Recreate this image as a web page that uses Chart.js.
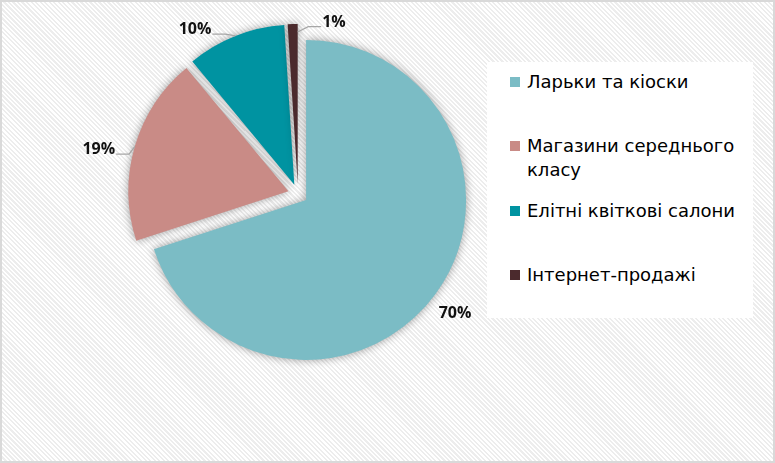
<!DOCTYPE html>
<html><head><meta charset="utf-8">
<script src="https://cdn.jsdelivr.net/npm/chart.js@4"></script>
<style>
html,body{margin:0;padding:0;}
body{width:775px;height:463px;overflow:hidden;position:relative;
 background: repeating-linear-gradient(45deg,#ffffff 0px,#ffffff 1.6px,#ededed 1.6px,#ededed 3.2px);}
#frame{position:absolute;left:0;top:0;width:775px;height:463px;box-sizing:border-box;border:2px solid #d9d9d9;pointer-events:none;}
canvas{position:absolute;left:0;top:0;}
#legend{position:absolute;left:487px;top:62px;width:266px;height:256px;background:#fff;font-family:"DejaVu Sans";font-size:18px;color:#000;}
.item{position:absolute;left:23px;width:240px;height:24px;}
.sw{position:absolute;left:0;top:7px;width:10px;height:10px;}
.tx{position:absolute;left:17px;top:0;width:222px;line-height:24px;white-space:normal;}
</style>
</head><body>
<canvas id="c" width="775" height="463"></canvas>
<div id="legend"></div>
<div id="frame"></div>
<script>
const categories = ['Ларьки та кіоски', 'Магазини середнього класу', 'Елітні квіткові салони', 'Інтернет-продажі'];
const shares = [70, 19, 10, 1];
const colors = ['#7BBCC5', '#C98B86', '#0093A1', '#4B2A2D'];

const EXPLODE = 10;
const labelStyle = [
  {dx: 19.5, dy: 19, leader: false},
  {dx: -36, dy: 2, leader: true, target: 'mid', inset: 0},
  {dx: -40.4, dy: -7.4, leader: true, target: 'mid', inset: 0},
  {dx: 41.3, dy: -3, leader: true, target: 'end', inset: 8}
];

// legend (HTML, real text)
const legendEl = document.getElementById('legend');
categories.forEach((name, i) => {
  const it = document.createElement('div');
  it.className = 'item';
  it.style.top = (20 + 64.3 * i - 12) + 'px';
  const sw = document.createElement('div');
  sw.className = 'sw';
  sw.style.background = colors[i];
  const tx = document.createElement('div');
  tx.className = 'tx';
  tx.textContent = name;
  it.appendChild(sw); it.appendChild(tx);
  legendEl.appendChild(it);
});

const explodePlugin = {
  id: 'explode',
  beforeDatasetsDraw(chart) {
    chart.getDatasetMeta(0).data.forEach(arc => {
      if (arc._exp) return;
      arc._exp = true;
      const orig = arc.draw;
      arc.draw = function (ctx, area) {
        const mid = (this.startAngle + this.endAngle) / 2;
        ctx.save();
        ctx.translate(Math.cos(mid) * EXPLODE, Math.sin(mid) * EXPLODE);
        ctx.shadowColor = 'rgba(0,0,0,0.38)';
        ctx.shadowBlur = 9;
        orig.call(this, ctx, area);
        ctx.restore();
      };
    });
  },
  afterDatasetsDraw(chart) {
    const ctx = chart.ctx;
    const meta = chart.getDatasetMeta(0);
    const total = shares.reduce((a, b) => a + b, 0);
    meta.data.forEach((arc, i) => {
      const p = arc.getProps(['x', 'y', 'startAngle', 'endAngle', 'outerRadius'], true);
      const mid = (p.startAngle + p.endAngle) / 2;
      const ax = p.x + Math.cos(mid) * EXPLODE, ay = p.y + Math.sin(mid) * EXPLODE;
      const ex = ax + Math.cos(mid) * p.outerRadius, ey = ay + Math.sin(mid) * p.outerRadius;
      const s = labelStyle[i];
      const lx = ex + s.dx, ly = ey + s.dy;
      const text = Math.round(shares[i] / total * 100) + '%';
      ctx.save();
      ctx.font = 'bold 16px "Open Sans"';
      const w = ctx.measureText(text).width;
      if (s.leader) {
        let tx, ty;
        if (s.target === 'end') {
          tx = ax + Math.cos(p.endAngle) * (p.outerRadius - s.inset);
          ty = ay + Math.sin(p.endAngle) * (p.outerRadius - s.inset);
        } else { tx = ex; ty = ey; }
        const leftOf = lx < tx;
        const edge = leftOf ? lx + w / 2 + 1 : lx - w / 2 - 1;
        const yy = ly + 5.5;
        const elbow = leftOf ? edge + 13 : edge - 13;
        ctx.strokeStyle = '#a6a6a6';
        ctx.lineWidth = 1.3;
        ctx.beginPath();
        ctx.moveTo(edge, yy); ctx.lineTo(elbow, yy); ctx.lineTo(tx, ty);
        ctx.stroke();
      }
      ctx.fillStyle = '#111';
      ctx.textAlign = 'center';
      ctx.textBaseline = 'middle';
      ctx.fillText(text, lx, ly + 1);
      ctx.restore();
    });
  }
};

new Chart(document.getElementById('c'), {
  type: 'pie',
  data: {
    labels: categories,
    datasets: [{data: shares, backgroundColor: colors, borderWidth: 0, hoverOffset: 0}]
  },
  options: {
    responsive: false,
    animation: false,
    events: [],
    layout: {padding: {left: 138, right: 317, top: 34, bottom: 109}},
    plugins: {legend: {display: false}, tooltip: {enabled: false}}
  },
  plugins: [explodePlugin]
});
</script>
</body></html>
